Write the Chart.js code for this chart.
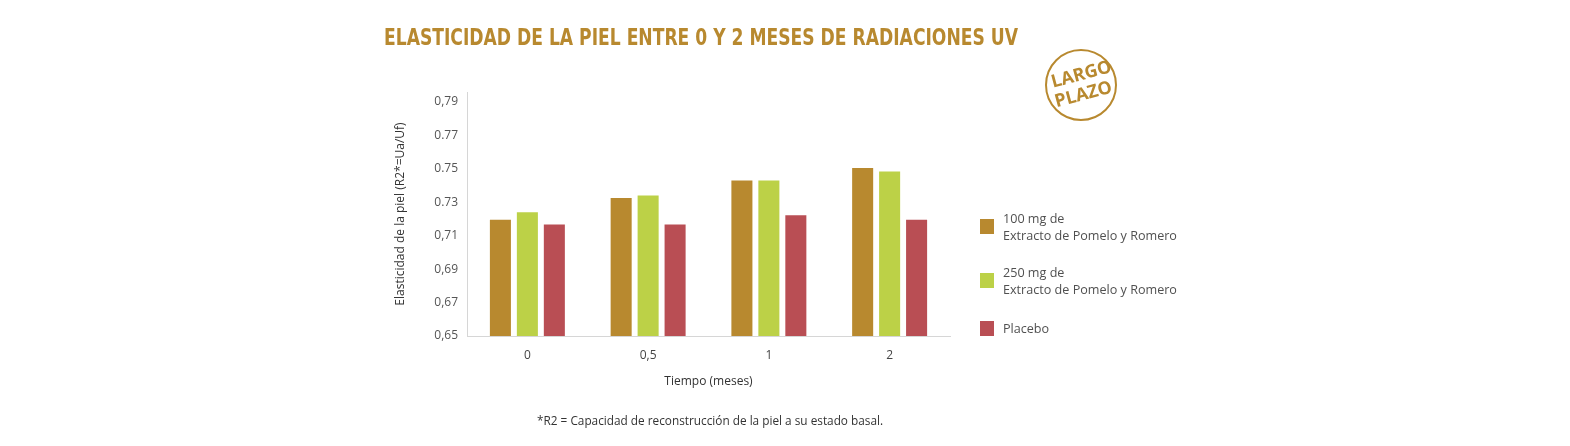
<!DOCTYPE html>
<html>
<head>
<meta charset="utf-8">
<script src="https://cdn.jsdelivr.net/npm/chart.js@4/dist/chart.umd.min.js"></script>
<style>
  html, body { margin: 0; padding: 0; background: #fff; }
  body { width: 1570px; height: 446px; position: relative; overflow: hidden; font-family: "Open Sans", "Noto Sans", sans-serif; }
  #wrap { position: absolute; left: 0; top: 0; width: 1570px; height: 446px; }
  #title { position: absolute; left: 384px; top: 23px; white-space: nowrap; color: #b8892f; font-family: "Liberation Sans Narrow", "DejaVu Sans Condensed", "Open Sans", sans-serif; font-weight: bold; font-size: 23px; line-height: 28px; transform-origin: 0 50%; }
  #badge { position: absolute; left: 1045px; top: 49px; width: 68px; height: 68px; border: 2px solid #b8892f; border-radius: 50%; }
  #badge .t { position: absolute; left: 0; width: 68px; text-align: center; color: #b8892f; font-family: "Open Sans", sans-serif; font-weight: bold; font-size: 18px; line-height: 18px; transform: rotate(-15deg); }
  .leg { position: absolute; left: 980px; }
  .leg .sw { position: absolute; left: 0; width: 14px; height: 15px; }
  .leg .tx { position: absolute; left: 23px; white-space: nowrap; color: #505050; font-size: 12.6px; line-height: 17px; }
  #foot { position: absolute; left: 537px; top: 412px; white-space: nowrap; color: #333; font-size: 11.8px; line-height: 17px; }
</style>
</head>
<body>
<div id="wrap"><canvas id="c" width="1570" height="446"></canvas></div>
<div id="title">ELASTICIDAD DE LA PIEL ENTRE 0 Y 2 MESES DE RADIACIONES UV</div>
<div id="badge">
  <div class="t" style="top:13px;">LARGO</div>
  <div class="t" style="top:33px;left:2px;">PLAZO</div>
</div>
<div id="legend"></div>
<div id="foot">*R2 = Capacidad de reconstrucción de la piel a su estado basal.</div>
<script>
const categories = ['0', '0,5', '1', '2'];
const series100 = [0.7195, 0.7325, 0.7430, 0.7505];
const series250 = [0.7240, 0.7340, 0.7430, 0.7485];
const seriesPlacebo = [0.7167, 0.7167, 0.7222, 0.7195];
const seriesNames = [['100 mg de', 'Extracto de Pomelo y Romero'], ['250 mg de', 'Extracto de Pomelo y Romero'], ['Placebo']];
const seriesColors = ['#b8892f', '#bcd147', '#b94e54'];
const yTickValues = [0.65, 0.67, 0.69, 0.71, 0.73, 0.75, 0.77, 0.79];
const yTickLabels = ['0,65', '0,67', '0,69', '0,71', '0.73', '0.75', '0.77', '0,79'];

// fit title width
(function(){
  const t = document.getElementById('title');
  const w = t.getBoundingClientRect().width;
  t.style.transform = 'scaleX(' + (634 / w) + ')';
})();

// legend
(function(){
  const leg = document.getElementById('legend');
  const tops = [219, 273, 321];
  seriesNames.forEach((lines, i) => {
    const d = document.createElement('div');
    d.className = 'leg';
    d.style.top = tops[i] + 'px';
    const sw = document.createElement('div');
    sw.className = 'sw';
    sw.style.background = seriesColors[i];
    sw.style.top = '0px';
    const tx = document.createElement('div');
    tx.className = 'tx';
    tx.style.top = '-9px';
    tx.innerHTML = lines.join('<br>');
    if (lines.length === 1) tx.style.top = '-1px';
    d.appendChild(sw); d.appendChild(tx);
    leg.appendChild(d);
  });
})();

const datasets = [series100, series250, seriesPlacebo].map((data, i) => ({
  label: seriesNames[i].join(' '),
  data: data,
  backgroundColor: seriesColors[i],
  borderWidth: 0,
  barPercentage: 0.78,
  categoryPercentage: 0.67
}));

new Chart(document.getElementById('c'), {
  type: 'bar',
  data: { labels: categories, datasets: datasets },
  options: {
    responsive: false,
    animation: false,
    layout: { padding: { left: 390, right: 620, top: 92, bottom: 57 } },
    plugins: { legend: { display: false }, tooltip: { enabled: false } },
    scales: {
      x: {
        grid: { display: false, drawTicks: false },
        border: { display: true, color: '#d6d6d6', width: 1 },
        ticks: { color: '#444', font: { family: 'Open Sans', size: 12 }, padding: 12 },
        title: { display: true, text: 'Tiempo (meses)', color: '#333', font: { family: 'Open Sans', size: 12 }, padding: { top: 6, bottom: 0 } },
        afterFit: (s) => { s.height = 53; }
      },
      y: {
        min: 0.65, max: 0.796,
        grid: { display: false, drawTicks: false },
        border: { display: true, color: '#d6d6d6', width: 1 },
        afterBuildTicks: (s) => { s.ticks = yTickValues.map(v => ({ value: v })); },
        ticks: {
          color: '#555', font: { family: 'Open Sans', size: 12 }, padding: 9,
          callback: (v) => { const i = yTickValues.findIndex(t => Math.abs(t - v) < 1e-6); return i >= 0 ? yTickLabels[i] : ''; }
        },
        title: { display: true, text: 'Elasticidad de la piel (R2*=Ua/Uf)', color: '#333', font: { family: 'Open Sans', size: 12 }, padding: { top: 3, bottom: 0 } },
        afterFit: (s) => { s.width = 77; }
      }
    }
  }
});
</script>
</body>
</html>
